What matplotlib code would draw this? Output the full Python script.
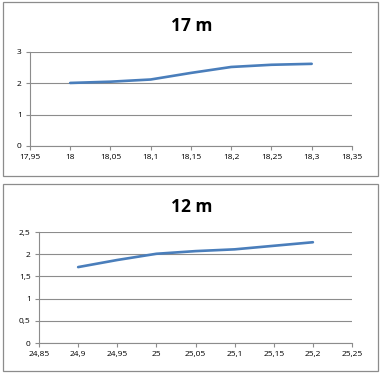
import matplotlib
matplotlib.use('Agg')
import matplotlib.pyplot as plt
from matplotlib.patches import Rectangle
from matplotlib.ticker import FuncFormatter

# data
x_17 = [18.0, 18.05, 18.1, 18.15, 18.2, 18.25, 18.3]
y_17 = [2.01, 2.05, 2.12, 2.33, 2.52, 2.59, 2.62]
x_12 = [24.9, 24.95, 25.0, 25.05, 25.1, 25.15, 25.2]
y_12 = [1.71, 1.87, 2.01, 2.07, 2.11, 2.19, 2.27]

plt.rcParams['font.family'] = ['Open Sans', 'DejaVu Sans']

LINE = '#4A7EBB'
GRID = '#8C8C8C'

fig = plt.figure(figsize=(3.84, 3.81), dpi=100)
fig.patch.set_facecolor('white')

# chart frames
for (l, b, w, h) in [(0.008, 0.538, 0.977, 0.457), (0.008, 0.026, 0.977, 0.491)]:
    fig.add_artist(Rectangle((l, b), w, h, transform=fig.transFigure,
                             fill=False, edgecolor='#8C8C8C', linewidth=0.9))

comma = FuncFormatter(lambda v, p: ('%g' % round(v, 2)).replace('.', ','))


def style(ax, xlim, xstep, ylim, ystep, title, title_y):
    ax.set_xlim(xlim)
    ax.set_ylim(ylim)
    n = int(round((xlim[1] - xlim[0]) / xstep))
    ax.set_xticks([xlim[0] + i * xstep for i in range(n + 1)])
    m = int(round((ylim[1] - ylim[0]) / ystep))
    ax.set_yticks([ylim[0] + i * ystep for i in range(m + 1)])
    ax.xaxis.set_major_formatter(comma)
    ax.yaxis.set_major_formatter(comma)
    ax.grid(axis='y', color=GRID, linewidth=0.8)
    ax.set_axisbelow(True)
    for s in ['top', 'right']:
        ax.spines[s].set_visible(False)
    for s in ['left', 'bottom']:
        ax.spines[s].set_color(GRID)
        ax.spines[s].set_linewidth(0.8)
    ax.tick_params(labelsize=6, length=3, width=0.8, color=GRID, pad=3)
    fig.text(0.5, title_y, title, ha='center', va='center', fontsize=12.5, fontweight='bold')


ax1 = fig.add_axes([0.078, 0.617, 0.8385, 0.2467])
ax1.plot(x_17, y_17, color=LINE, linewidth=1.9, solid_capstyle='round')
style(ax1, (17.95, 18.35), 0.05, (0, 3), 1, '17 m', 0.932)

ax2 = fig.add_axes([0.1016, 0.0997, 0.8151, 0.2913])
ax2.plot(x_12, y_12, color=LINE, linewidth=1.9, solid_capstyle='round')
style(ax2, (24.85, 25.25), 0.05, (0, 2.5), 0.5, '12 m', 0.457)

fig.savefig('out.png', dpi=100)
